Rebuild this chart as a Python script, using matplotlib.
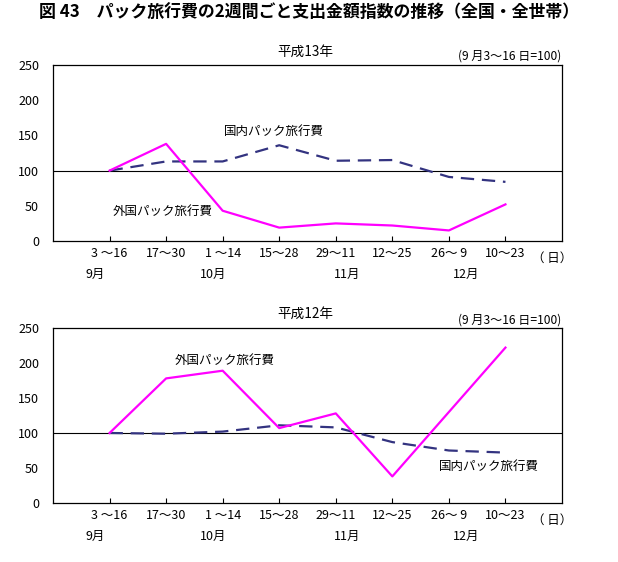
import matplotlib
matplotlib.use("Agg")
import matplotlib.pyplot as plt
import matplotlib.transforms as mtransforms

plt.rcParams['font.family'] = ['Noto Sans CJK JP', 'DejaVu Sans']

categories = ["3 ～16", "17～30", "1 ～14", "15～28", "29～11", "12～25", "26～ 9", "10～23"]
months = ["9月", "10月", "11月", "12月"]
month_pos = [0.74, 2.83, 5.21, 7.31]
yticks = [0, 50, 100, 150, 200, 250]

h13_foreign = [100, 138, 43, 19, 25, 22, 15, 52]
h13_domestic = [100, 113, 113, 136, 114, 115, 91, 84]
h12_foreign = [100, 178, 189, 107, 128, 38, 130, 222]
h12_domestic = [100, 99, 102, 111, 108, 87, 75, 72]

title = "図 43　パック旅行費の2週間ごと支出金額指数の推移（全国・全世帯）"
base_note = "(9 月3～16 日=100)"
foreign_label = "外国パック旅行費"
domestic_label = "国内パック旅行費"

W, H = 618, 562
fig = plt.figure(figsize=(W / 100, H / 100), dpi=100)
fig.patch.set_facecolor('white')

FS = 9
MAGENTA = '#FF00FF'
NAVY = '#333380'


def px_axes(x0, y0, x1, y1):
    return fig.add_axes([x0 / W, 1 - y1 / H, (x1 - x0) / W, (y1 - y0) / H])


def draw_panel(ax, foreign, domestic, year_label, y_title, y_note,
               flabel_pos, dlabel_pos):
    x = list(range(1, len(categories) + 1))
    ax.axhline(100, color='black', lw=0.8, zorder=1)
    ax.plot(x, domestic, color=NAVY, lw=1.6, dashes=(6, 3.5), zorder=2)
    ax.plot(x, foreign, color=MAGENTA, lw=1.6, zorder=3)
    ax.set_xlim(0, 9)
    ax.set_ylim(0, 250)
    ax.set_yticks(yticks)
    ax.set_yticklabels([str(v) for v in yticks], fontsize=FS)
    ax.tick_params(axis='y', length=0, pad=10)
    ax.set_xticks(x)
    ax.set_xticklabels(categories, fontsize=FS)
    ax.tick_params(axis='x', direction='in', length=3.5, width=0.8, pad=4)
    for s in ax.spines.values():
        s.set_linewidth(0.9)
        s.set_color('black')
    trans = mtransforms.blended_transform_factory(ax.transData, ax.transAxes)
    for m, p in zip(months, month_pos):
        ax.text(p, -0.19, m, transform=trans, ha='center', va='center', fontsize=FS)
    ax.text(8.83, -0.097, "（ 日）", transform=trans, ha='center', va='center', fontsize=FS)
    ax.text(flabel_pos[0], flabel_pos[1], foreign_label, ha='left', va='center', fontsize=FS)
    ax.text(dlabel_pos[0], dlabel_pos[1], domestic_label, ha='left', va='center', fontsize=FS)
    fig.text(305 / W, 1 - y_title / H, year_label, ha='center', va='center', fontsize=FS + 0.8)
    fig.text(561 / W, 1 - y_note / H, base_note, ha='right', va='center', fontsize=FS - 0.3)


fig.text(309 / W, 1 - 13 / H, title, ha='center', va='center', fontsize=12.2, fontweight='bold')

ax1 = px_axes(53, 65, 562, 241)
draw_panel(ax1, h13_foreign, h13_domestic, "平成13年", 52, 56,
           (1.06, 42), (3.02, 156))

ax2 = px_axes(53, 328, 562, 503)
draw_panel(ax2, h12_foreign, h12_domestic, "平成12年", 314, 320,
           (2.16, 203), (6.82, 52))

fig.savefig("out.png", dpi=100, facecolor='white')
